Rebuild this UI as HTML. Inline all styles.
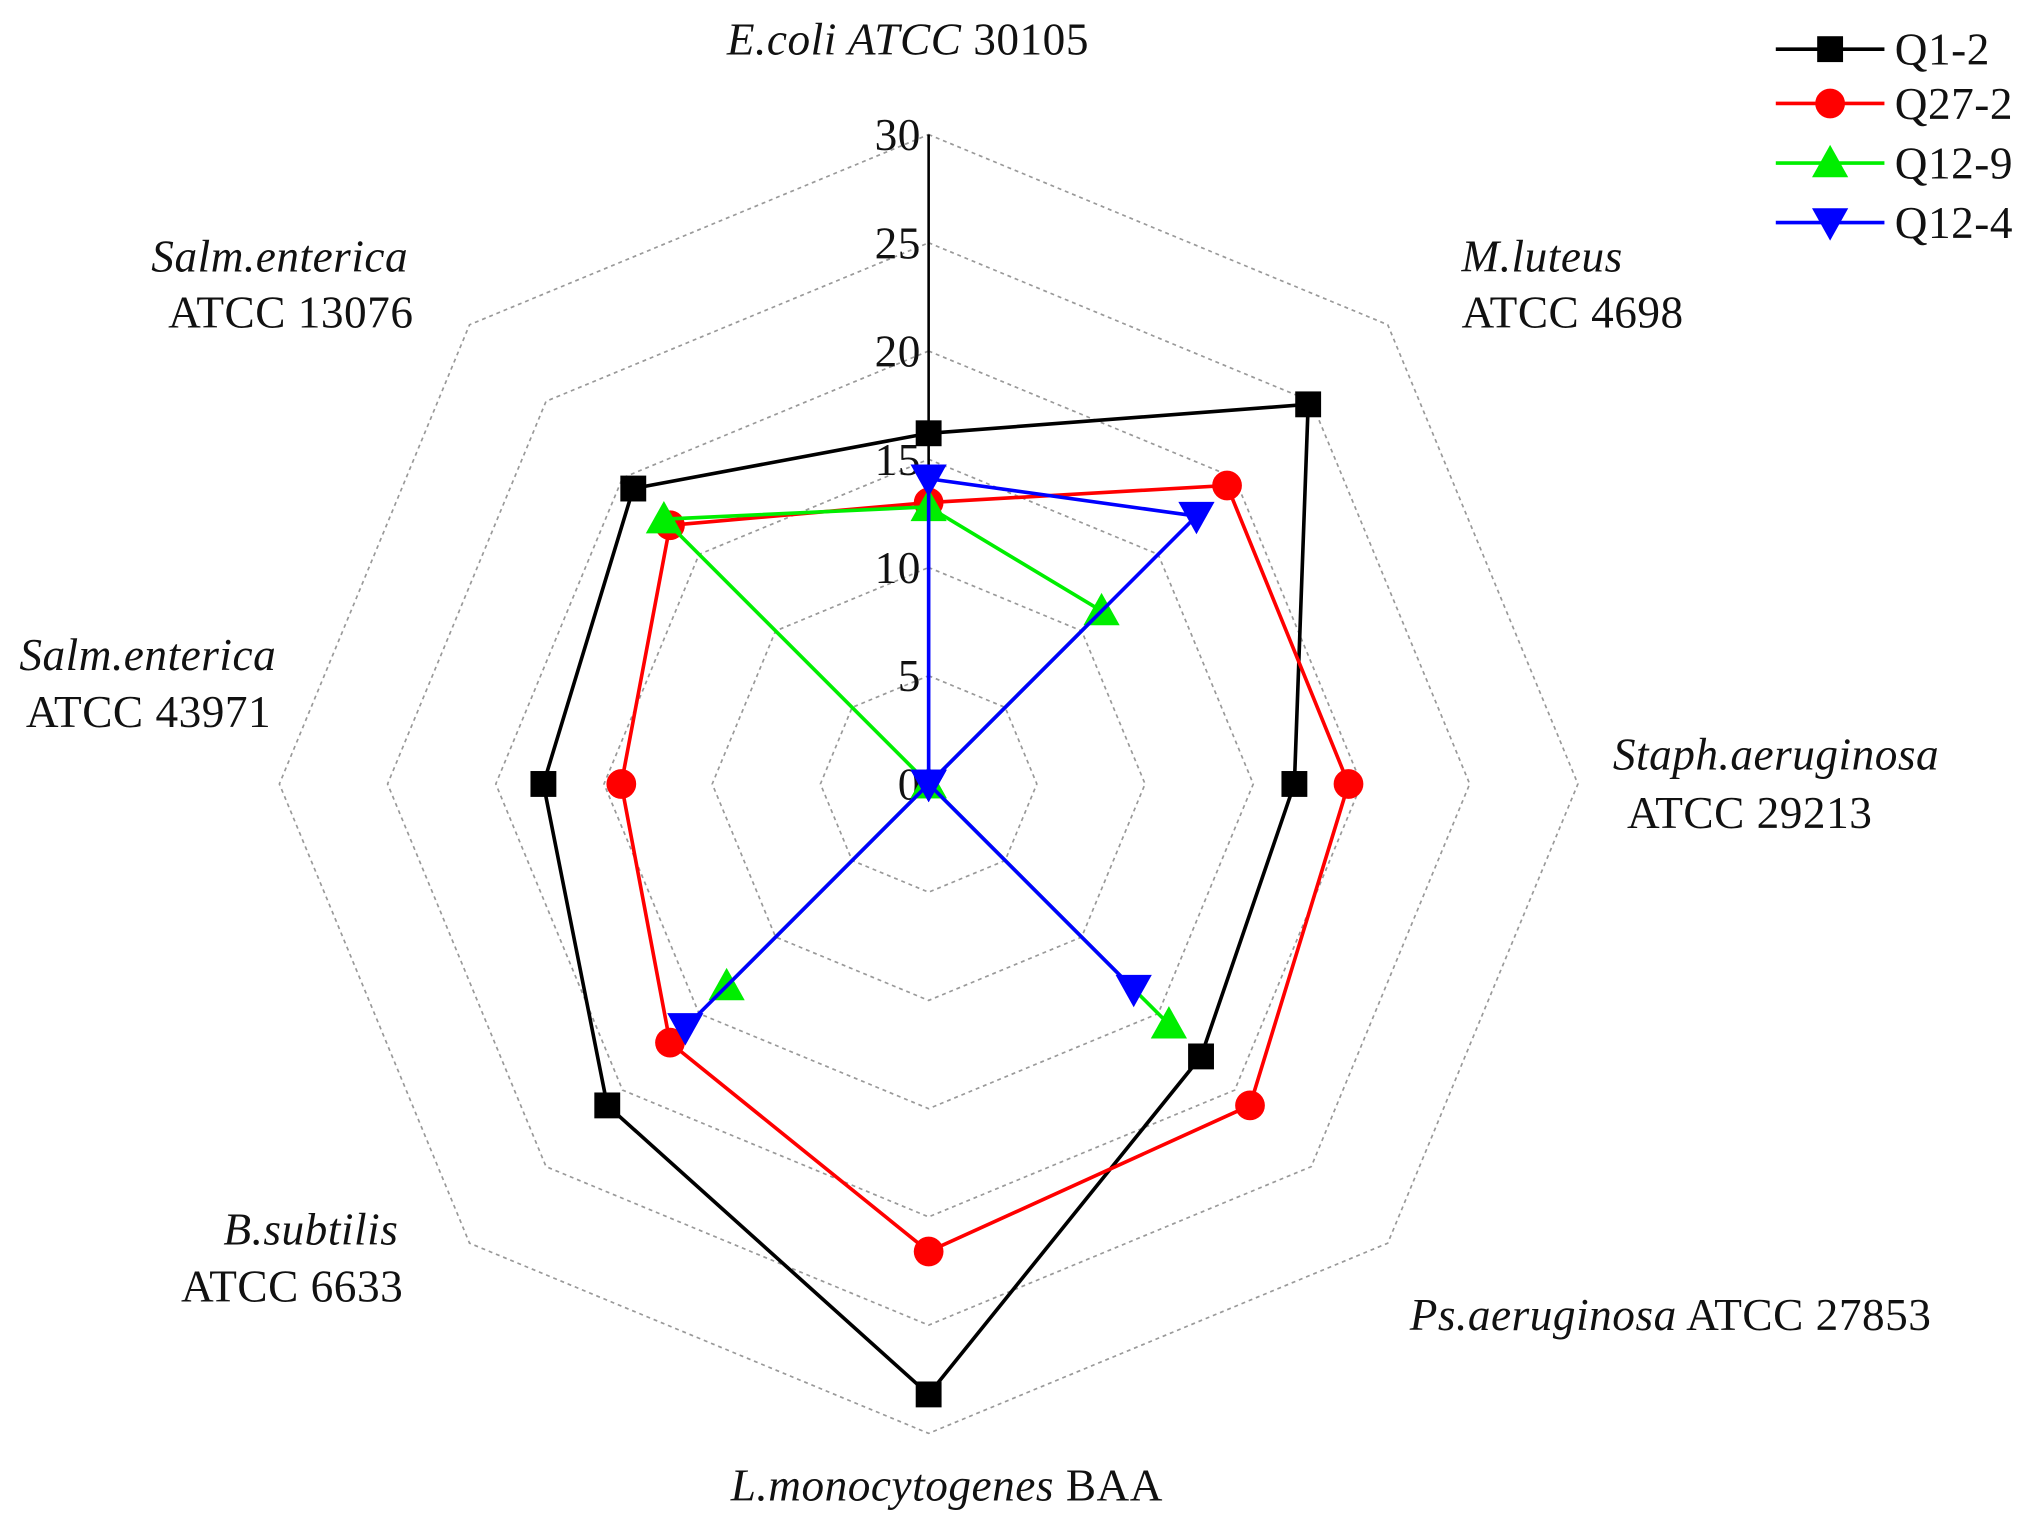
<!DOCTYPE html>
<html><head><meta charset="utf-8"><style>
html,body{margin:0;padding:0;background:#fff;}
svg{display:block;}
text{font-family:"Liberation Serif",serif;font-size:35px;letter-spacing:0.4px;fill:#111;}
.i{font-style:italic;}
</style></head><body>
<svg id="s" width="2028" height="1533" viewBox="0 0 1568 1185" preserveAspectRatio="none" xmlns="http://www.w3.org/2000/svg">
<g id="grid"></g>
<line x1="718" y1="606" x2="718" y2="104" stroke="#000" stroke-width="2"/>
<g id="ticks"></g>
<g id="series"></g>
<text x="562" y="42"><tspan class="i">E.coli ATCC</tspan> 30105</text>
<text x="1130" y="210" class="i">M.luteus</text>
<text x="1130" y="253">ATCC 4698</text>
<text x="1247" y="595" class="i">Staph.aeruginosa</text>
<text x="1258" y="640">ATCC 29213</text>
<text x="1090" y="1028"><tspan class="i">Ps.aeruginosa</tspan> ATCC 27853</text>
<text x="565" y="1160"><tspan class="i">L.monocytogenes</tspan> BAA</text>
<text x="308" y="962" class="i" text-anchor="end">B.subtilis</text>
<text x="140" y="1006">ATCC 6633</text>
<text x="117" y="210" class="i">Salm.enterica</text>
<text x="130" y="253">ATCC 13076</text>
<text x="15" y="518" class="i">Salm.enterica</text>
<text x="20" y="562">ATCC 43971</text>
<g id="legend"></g>
</svg>
<script>
var NS="http://www.w3.org/2000/svg",cx=718,cy=606,u=502/30;
function el(p,n,a){var e=document.createElementNS(NS,n);for(var k in a)e.setAttribute(k,a[k]);p.appendChild(e);return e;}
function pt(i,v){var a=i*Math.PI/4;return [cx+Math.sin(a)*v*u,cy-Math.cos(a)*v*u];}
var g=document.getElementById('grid');
for(var r=5;r<=30;r+=5){var ps=[];for(var i=0;i<8;i++)ps.push(pt(i,r).join(','));
el(g,'polygon',{points:ps.join(' '),fill:'none',stroke:'#999','stroke-width':1.3,'stroke-dasharray':'3 3'});}
var t=document.getElementById('ticks');
for(var r=0;r<=30;r+=5){var tx=el(t,'text',{x:712,y:cy-r*u+12,'text-anchor':'end'});tx.textContent=r;}
var S=[
 {c:'#000',m:'sq',d:[16.2,24.8,16.9,17.8,28.2,21.0,17.8,19.3]},
 {c:'#f00',m:'ci',d:[13.0,19.5,19.4,21.0,21.6,16.9,14.2,16.9]},
 {c:'#0e0',m:'up',d:[12.8,11.3,0,15.7,0,13.2,0,17.3]},
 {c:'#00f',m:'dn',d:[14.1,17.5,0,13.4,0,15.9,0,0]}];
var sg=document.getElementById('series');
function mk(p,m,c,x,y){
 if(m=='sq')el(p,'rect',{x:x-10,y:y-10,width:20,height:20,fill:c});
 else if(m=='ci')el(p,'circle',{cx:x,cy:y,r:11.5,fill:c});
 else if(m=='up')el(p,'polygon',{points:(x)+','+(y-14)+' '+(x-14)+','+(y+11)+' '+(x+14)+','+(y+11),fill:c});
 else el(p,'polygon',{points:(x)+','+(y+14)+' '+(x-14)+','+(y-11)+' '+(x+14)+','+(y-11),fill:c});
}
S.forEach(function(s){var ps=[];for(var i=0;i<8;i++)ps.push(pt(i,s.d[i]));
 el(sg,'polygon',{points:ps.map(function(p){return p.join(',')}).join(' '),fill:'none',stroke:s.c,'stroke-width':2.8});
 ps.forEach(function(p){mk(sg,s.m,s.c,p[0],p[1]);});});
var lg=document.getElementById('legend'),names=['Q1-2','Q27-2','Q12-9','Q12-4'],ys=[38,80,126,172];
S.forEach(function(s,i){var y=ys[i];el(lg,'line',{x1:1373,y1:y,x2:1457,y2:y,stroke:s.c,'stroke-width':2.8});
 mk(lg,s.m,s.c,1415,y);var tx=el(lg,'text',{x:1465,y:y+12});tx.textContent=names[i];});
</script>
</body></html>
